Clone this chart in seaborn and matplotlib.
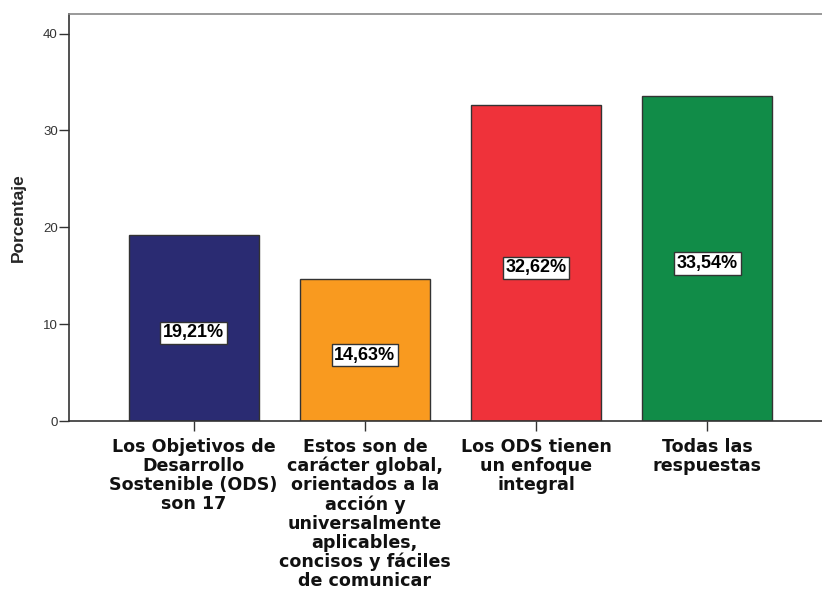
import matplotlib
matplotlib.use("Agg")
import matplotlib.pyplot as plt
import seaborn as sns
import pandas as pd

# --- DATA ---
categories = [
    "Los Objetivos de\nDesarrollo\nSostenible (ODS)\nson 17",
    "Estos son de\ncarácter global,\norientados a la\nacción y\nuniversalmente\naplicables,\nconcisos y fáciles\nde comunicar",
    "Los ODS tienen\nun enfoque\nintegral",
    "Todas las\nrespuestas",
]
values = [19.21, 14.63, 32.62, 33.54]
value_labels = ["19,21%", "14,63%", "32,62%", "33,54%"]
colors = ["#2A2B72", "#F99A1F", "#EF323A", "#118C48"]
y_ticks = [0, 10, 20, 30, 40]

df = pd.DataFrame({"cat": categories, "pct": values})

sns.set_style("white")
plt.rcParams["font.family"] = ["Liberation Sans", "DejaVu Sans"]

fig = plt.figure(figsize=(8.22, 5.93), dpi=100)
ax = fig.add_axes([0.0839, 0.290, 0.9161, 0.686])

sns.barplot(data=df, x="cat", y="pct", hue="cat", palette=colors, legend=False,
            width=0.76, edgecolor="#333333", linewidth=1.0, ax=ax, saturation=1)

# labels in boxes
for i, (v, lab) in enumerate(zip(values, value_labels)):
    ax.text(i, v / 2 - 0.5, lab, ha="center", va="center", fontsize=13,
            fontweight="bold", color="black",
            bbox=dict(boxstyle="square,pad=0.15", facecolor="white",
                      edgecolor="#333333", linewidth=1))

ax.set_ylim(0, 42)
ax.set_xlim(-0.728, 3.67)
ax.set_yticks(y_ticks)
ax.set_yticklabels([str(t) for t in y_ticks], fontsize=9.5, color="#333333")
ax.tick_params(axis="y", direction="out", length=7, width=1, color="#333333", left=True, pad=1)
ax.tick_params(axis="x", direction="out", length=7, width=1, color="#333333", bottom=True, pad=5)
ax.set_xticks(range(len(categories)))
ax.set_xticklabels(categories, fontsize=12.6, fontweight="bold", linespacing=1.07,
                   va="top", family="DejaVu Sans", color="#111111")

ax.set_xlabel("")
ax.set_ylabel("Porcentaje", fontsize=12.5, fontweight="bold", labelpad=12)

for s in ["left", "bottom"]:
    ax.spines[s].set_color("#333333")
    ax.spines[s].set_linewidth(1.2)
ax.spines["top"].set_color("#888888")
ax.spines["top"].set_linewidth(1.2)
ax.spines["right"].set_visible(False)

fig.savefig("out.png", dpi=100)
